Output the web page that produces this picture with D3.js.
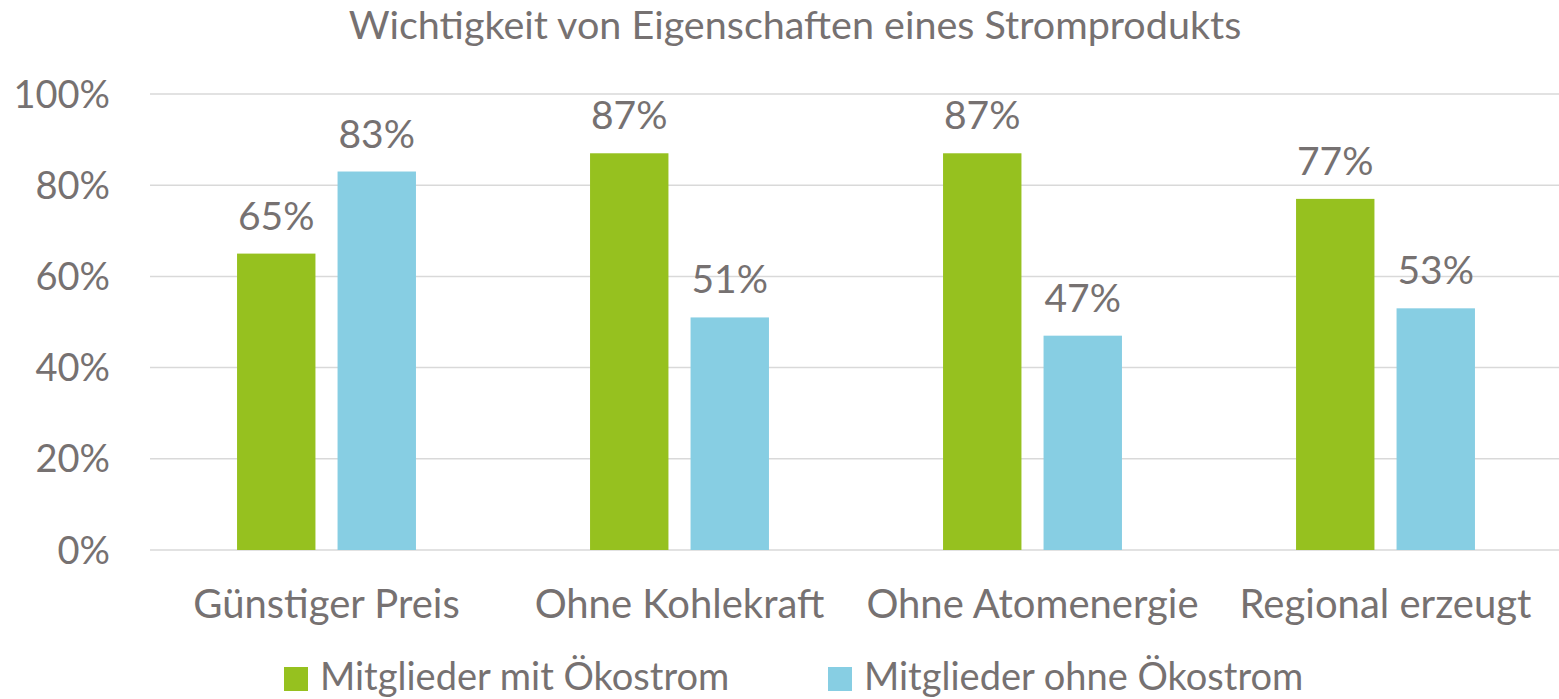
<!DOCTYPE html>
<html>
<head>
<meta charset="utf-8">
<script src="https://cdn.jsdelivr.net/npm/d3@7"></script>
<style>
  body { margin: 0; background: #fff; }
  text { font-family: Lato, "Open Sans", sans-serif; fill: #767171; }
</style>
</head>
<body>
<div id="chart"></div>
<script>
const categories = ["Günstiger Preis", "Ohne Kohlekraft", "Ohne Atomenergie", "Regional erzeugt"];
const seriesNames = ["Mitglieder mit Ökostrom", "Mitglieder ohne Ökostrom"];
const mitOekostrom = [65, 87, 87, 77];
const ohneOekostrom = [83, 51, 47, 53];
const yTicks = [0, 20, 40, 60, 80, 100];
const colors = ["#96c11f", "#87cee3"];

const W = 1559, H = 699;

const svg = d3.select("#chart").append("svg")
  .attr("width", W)
  .attr("height", H);

const x0 = d3.scaleBand().domain(categories).range([150, 1562]);
const x1 = d3.scaleBand().domain(seriesNames)
  .range([0, x0.bandwidth()])
  .paddingInner(0.22)
  .paddingOuter(0.866);
const y = d3.scaleLinear().domain([0, 100]).range([550, 94]);

// gridlines
svg.append("g")
  .selectAll("line")
  .data(yTicks)
  .join("line")
  .attr("x1", 150)
  .attr("x2", W)
  .attr("y1", d => y(d))
  .attr("y2", d => y(d))
  .attr("stroke", "#d9d9d9")
  .attr("stroke-width", 1.5);

// y labels
svg.append("g")
  .selectAll("text")
  .data(yTicks)
  .join("text")
  .attr("x", 110)
  .attr("y", d => y(d))
  .attr("dy", "0.36em")
  .attr("text-anchor", "end")
  .style("font-size", "38px")
  .text(d => d + "%");

const rows = categories.map((c, i) => ({
  cat: c,
  vals: [mitOekostrom[i], ohneOekostrom[i]]
}));

const groups = svg.append("g")
  .selectAll("g")
  .data(rows)
  .join("g")
  .attr("transform", d => `translate(${x0(d.cat)},0)`);

const bars = groups.selectAll("g")
  .data(d => d.vals.map((v, j) => ({ s: seriesNames[j], v: v, j: j })))
  .join("g");

bars.append("rect")
  .attr("x", d => x1(d.s))
  .attr("y", d => y(d.v))
  .attr("width", x1.bandwidth())
  .attr("height", d => y(0) - y(d.v))
  .attr("fill", d => colors[d.j]);

bars.append("text")
  .attr("x", d => x1(d.s) + x1.bandwidth() / 2)
  .attr("y", d => y(d.v) - 24)
  .attr("text-anchor", "middle")
  .style("font-size", "39px")
  .text(d => d.v + "%");

// category labels
svg.append("g")
  .selectAll("text")
  .data(categories)
  .join("text")
  .attr("x", d => x0(d) + x0.bandwidth() / 2)
  .attr("y", 618)
  .attr("text-anchor", "middle")
  .style("font-size", "40px")
  .text(d => d);

// title
svg.append("text")
  .attr("x", 795)
  .attr("y", 39)
  .attr("text-anchor", "middle")
  .style("font-size", "39.5px")
  .text("Wichtigkeit von Eigenschaften eines Stromprodukts");

// legend
const legendX = [284, 828];
const legend = svg.append("g")
  .selectAll("g")
  .data(seriesNames)
  .join("g")
  .attr("transform", (d, i) => `translate(${legendX[i]},667)`);

legend.append("rect")
  .attr("width", 24)
  .attr("height", 24)
  .attr("fill", (d, i) => colors[i]);

legend.append("text")
  .attr("x", 36)
  .attr("y", 23)
  .style("font-size", "38px")
  .text(d => d);
</script>
</body>
</html>
